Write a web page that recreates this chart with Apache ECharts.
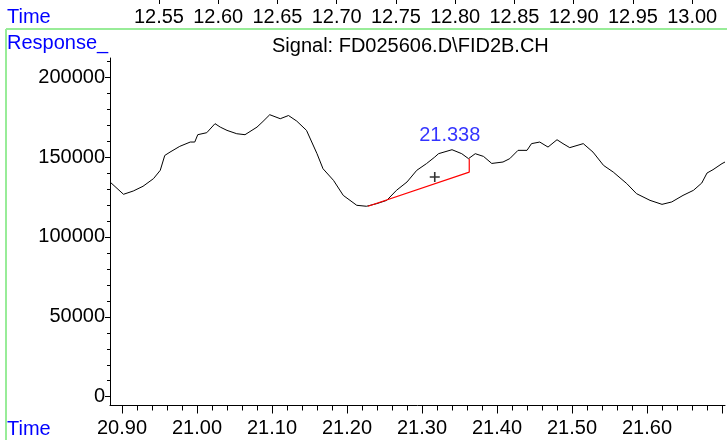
<!DOCTYPE html>
<html>
<head>
<meta charset="utf-8">
<script src="https://cdn.jsdelivr.net/npm/echarts@6/dist/echarts.min.js"></script>
<style>
html,body{margin:0;padding:0;background:#fff;}
#c{width:727px;height:440px;}
</style>
</head>
<body>
<div id="c"></div>
<script>
// ---- data ----
const times = [20.884,20.902,20.915,20.928,20.942,20.951,20.957,20.964,20.977,20.991,20.997,21.001,21.013,21.024,21.031,21.040,21.053,21.064,21.080,21.088,21.097,21.111,21.122,21.133,21.146,21.160,21.168,21.182,21.195,21.204,21.213,21.226,21.240,21.253,21.266,21.280,21.293,21.306,21.317,21.322,21.340,21.353,21.362,21.371,21.382,21.393,21.408,21.417,21.428,21.440,21.446,21.457,21.468,21.480,21.488,21.497,21.515,21.528,21.542,21.555,21.573,21.586,21.604,21.620,21.633,21.648,21.662,21.673,21.680,21.688,21.700,21.704];
const responses = [134400,126700,128750,131700,136500,141700,151000,153100,156700,159400,159400,164000,165250,170900,168750,166700,164600,164000,168750,172300,176500,174000,176000,172500,166700,152100,142700,135400,126000,122900,119800,119200,120900,122900,129200,134400,141700,145900,150000,152100,154600,152100,149000,152100,150400,146000,146900,149000,154200,154200,158400,159400,156250,160850,158400,155900,158400,153100,144800,140600,133400,127100,122900,120400,121900,126000,129200,133750,140000,142100,145900,146900];
const baselineTimes = [21.228, 21.363, 21.363];
const baselineValues = [119200, 140600, 149000];
const apexMarker = [21.317, 137500];
const peakLabelPos = [21.337, 163500];
const peakLabelText = '21.338';
const bottomTicks = [20.90,21.00,21.10,21.20,21.30,21.40,21.50,21.60,21.70];
const bottomLabels = [20.90,21.00,21.10,21.20,21.30,21.40,21.50,21.60];
const bottomMinor = [20.92,20.94,20.96,20.98,21.02,21.04,21.06,21.08,21.12,21.14,21.16,21.18,21.22,21.24,21.26,21.28,21.32,21.34,21.36,21.38,21.42,21.44,21.46,21.48,21.52,21.54,21.56,21.58,21.62,21.64,21.66,21.68];
const topTicks = [12.55,12.60,12.65,12.70,12.75,12.80,12.85,12.90,12.95,13.00];
const yTicks = [0,50000,100000,150000,200000];
const yMinor = [10000,20000,30000,40000,60000,70000,80000,90000,110000,120000,130000,140000,160000,170000,180000,190000,210000];
const titleText = 'Signal: FD025606.D\\FID2B.CH';
const yName = 'Response_';
const xName = 'Time';

const FONT = 'Liberation Sans, Arial, sans-serif';
const chart = echarts.init(document.getElementById('c'));
const xMin = 20.884, xMax = 21.704;
const tMin = 12.5087, tMax = 13.0277;
const yMin = -5500, yMax = 212000;
const axisCol = '#000';

chart.setOption({
  backgroundColor: '#fff',
  animation: false,
  grid: {left: 110, right: 2, top: 58, bottom: 34.5, containLabel: false, outerBoundsMode: 'none'},
  xAxis: [
    {type:'value', position:'bottom', min:xMin, max:xMax,
     axisLine:{show:true, onZero:false, lineStyle:{color:axisCol, width:1}},
     axisTick:{show:true, customValues:bottomTicks, length:8, lineStyle:{color:axisCol, width:1}},
     axisLabel:{show:true, customValues:bottomLabels, formatter:v=>v.toFixed(2), fontSize:20, fontFamily:FONT, color:'#000', margin:13},
     splitLine:{show:false}},
    {type:'value', position:'bottom', min:xMin, max:xMax,
     axisLine:{show:false, onZero:false},
     axisTick:{show:true, customValues:bottomMinor, length:5, lineStyle:{color:axisCol, width:1}},
     axisLabel:{show:false}, splitLine:{show:false}},
    {type:'value', position:'top', offset:58, min:tMin, max:tMax,
     axisLine:{show:false, onZero:false},
     axisTick:{show:true, inside:true, customValues:topTicks, length:4, lineStyle:{color:axisCol, width:1}},
     axisLabel:{show:true, inside:true, customValues:topTicks, formatter:v=>v.toFixed(2), fontSize:20, fontFamily:FONT, color:'#000', margin:7},
     splitLine:{show:false}}
  ],
  yAxis: [
    {type:'value', position:'left', min:yMin, max:yMax,
     axisLine:{show:true, onZero:false, lineStyle:{color:axisCol, width:1}},
     axisTick:{show:true, customValues:yTicks, length:5, lineStyle:{color:axisCol, width:1}},
     axisLabel:{show:true, customValues:yTicks, formatter:v=>String(Math.round(v)), fontSize:20, fontFamily:FONT, color:'#000', margin:5},
     splitLine:{show:false}},
    {type:'value', position:'left', min:yMin, max:yMax,
     axisLine:{show:false, onZero:false},
     axisTick:{show:true, customValues:yMinor, length:3, lineStyle:{color:axisCol, width:1}},
     axisLabel:{show:false}, splitLine:{show:false}}
  ],
  series: [
    {type:'line', xAxisIndex:0, yAxisIndex:0, showSymbol:false, symbol:'none',
     data: times.map((t,i)=>[t, responses[i]]),
     lineStyle:{color:'#000', width:1}, z:3},
    {type:'line', xAxisIndex:0, yAxisIndex:0, showSymbol:false, symbol:'none',
     data: baselineTimes.map((t,i)=>[t, baselineValues[i]]),
     lineStyle:{color:'#ff0000', width:1.2}, z:4},
    {type:'scatter', xAxisIndex:0, yAxisIndex:0,
     symbol:'path://M0,5L10,5M5,0L5,10', symbolSize:10,
     itemStyle:{color:'none', borderColor:'#000', borderWidth:1.6},
     data:[apexMarker], z:5},
    {type:'scatter', xAxisIndex:0, yAxisIndex:0, symbolSize:0,
     data:[peakLabelPos],
     label:{show:true, position:'inside', formatter:peakLabelText, fontSize:20, fontFamily:FONT, color:'#0000ff'}, z:5}
  ],
  graphic: [
    {type:'line', shape:{x1:6, y1:29, x2:727, y2:29}, style:{stroke:'#98ec98', lineWidth:2}, silent:true},
    {type:'line', shape:{x1:6, y1:29, x2:6, y2:440}, style:{stroke:'#98ec98', lineWidth:2}, silent:true},
    {type:'text', x:7, y:17, style:{text:xName, font:'20px '+FONT, fill:'#0000ff', textVerticalAlign:'middle'}},
    {type:'text', x:7, y:429, style:{text:xName, font:'20px '+FONT, fill:'#0000ff', textVerticalAlign:'middle'}},
    {type:'text', x:7, y:43.5, style:{text:yName, font:'20px '+FONT, fill:'#0000ff', textVerticalAlign:'middle'}},
    {type:'text', x:272, y:46, style:{text:titleText, font:'20px '+FONT, fill:'#000', textVerticalAlign:'middle'}}
  ]
});
</script>
</body>
</html>
